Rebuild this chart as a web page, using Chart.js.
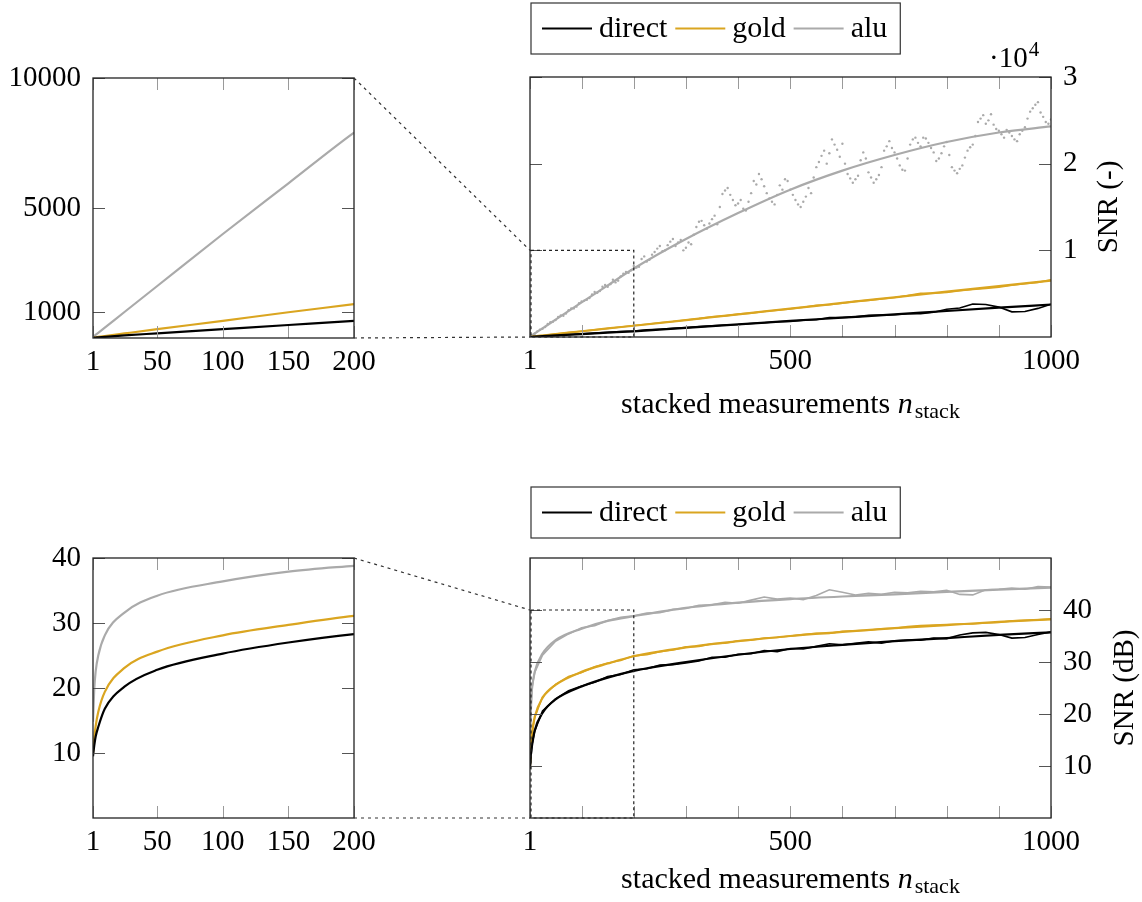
<!DOCTYPE html>
<html>
<head>
<meta charset="utf-8">
<script src="https://cdn.jsdelivr.net/npm/chart.js@4"></script>
<style>
  body { margin: 0; background: #fff; width: 1142px; height: 902px; position: relative; overflow: hidden; }
  canvas { position: absolute; }
</style>
</head>
<body>
<canvas id="topLeft" width="400" height="320" style="left:0;top:60px"></canvas>
<canvas id="topRight" width="642" height="430" style="left:500px;top:0"></canvas>
<canvas id="botLeft" width="400" height="320" style="left:0;top:540px"></canvas>
<canvas id="botRight" width="642" height="422" style="left:500px;top:480px"></canvas>
<canvas id="links" width="1142" height="902" style="left:0;top:0"></canvas>
<script>
// ---- data ----
const nFit = [1, 2, 3, 5, 10, 25, 50, 100, 150, 200, 300, 400, 500, 600, 700, 800, 900, 1000];
const fitDirect = [9, 13, 18, 25, 45, 100, 180, 340, 500, 660, 1060, 1450, 1850, 2230, 2610, 3000, 3380, 3750];
const fitGold = [10, 18, 25, 40, 75, 175, 340, 660, 990, 1300, 1950, 2620, 3270, 3930, 4580, 5230, 5870, 6500];
const fitAlu = [30, 80, 120, 200, 400, 1000, 2000, 4000, 5950, 7900, 11300, 14300, 17000, 19200, 21000, 22500, 23600, 24300];

const fitDirectDb = [9.5, 11.2, 12.5, 14.0, 16.8, 20.2, 22.8, 25.3, 27.0, 28.3, 30.0, 31.4, 32.5, 33.3, 34.0, 34.6, 35.2, 35.7];
const fitGoldDb = [10.0, 12.5, 14.1, 16.3, 19.4, 23.1, 25.6, 28.1, 29.7, 31.1, 32.8, 34.0, 35.0, 35.8, 36.5, 37.1, 37.7, 38.2];
const fitAluDb = [14.8, 20.0, 22.5, 25.0, 28.1, 31.6, 34.2, 36.4, 37.9, 38.8, 40.4, 41.4, 42.1, 42.6, 43.0, 43.5, 43.9, 44.3];

const nMeas = [1, 5, 10, 25, 50, 75, 100, 125, 150, 175, 200, 225, 250, 275, 300, 325, 350, 375, 400, 425,
  450, 475, 500, 525, 550, 575, 600, 625, 650, 675, 700, 725, 750, 775, 800, 825, 850, 875, 900, 925, 950, 975, 1000];
const measDirect = [9, 25, 45, 100, 190, 280, 360, 450, 540, 640, 700, 820, 900, 990, 1080, 1200, 1280, 1380, 1440, 1560,
  1650, 1760, 1800, 1940, 1990, 2250, 2250, 2320, 2500, 2520, 2560, 2680, 2700, 2850, 3200, 3350, 3800, 3750, 3450, 2900, 2950, 3300, 3780];
const measGold = [10, 40, 75, 170, 330, 500, 660, 820, 990, 1150, 1320, 1480, 1650, 1780, 1970, 2120, 2330, 2440, 2640, 2760,
  2950, 3090, 3250, 3430, 3650, 3720, 3900, 4110, 4230, 4380, 4560, 4780, 5050, 5050, 5150, 5330, 5500, 5600, 5750, 5980, 6150, 6300, 6600];

const measDirectDb = [9.5, 14.2, 16.7, 20.6, 22.9, 24.5, 25.4, 26.1, 27.2, 27.6, 28.5, 28.7, 29.4, 29.5, 29.8, 30.2, 30.9, 30.9, 31.5, 31.6,
  32.2, 32.0, 32.6, 32.5, 33.0, 33.5, 33.3, 33.6, 33.9, 33.6, 34.1, 34.2, 34.2, 34.6, 34.5, 35.2, 35.6, 35.7, 35.3, 34.6, 34.7, 35.3, 35.8];
const measGoldDb = [10.0, 16.5, 19.3, 23.3, 25.7, 27.2, 28.0, 29.1, 29.8, 30.3, 31.2, 31.4, 32.0, 32.3, 32.9, 33.0, 33.5, 33.6, 34.1, 34.2,
  34.6, 34.7, 35.0, 35.3, 35.5, 35.5, 35.9, 36.0, 36.1, 36.4, 36.5, 36.8, 37.0, 37.1, 37.2, 37.3, 37.3, 37.5, 37.6, 37.9, 38.0, 38.1, 38.3];
const measAluDb = [14.8, 25.2, 28.0, 31.3, 34.0, 35.4, 36.6, 37.0, 38.0, 38.6, 38.9, 39.4, 39.5, 40.1, 40.3, 40.9, 41.0, 41.5, 41.3, 41.9,
  42.5, 42.1, 42.3, 42.0, 42.8, 43.9, 43.4, 42.9, 43.2, 43.0, 43.4, 43.3, 43.6, 43.5, 43.8, 43.0, 42.9, 43.9, 44.0, 44.2, 44.0, 44.5, 44.4];

const nDots = [1, 10, 20, 30, 40, 50, 60, 70, 80, 90, 100, 110, 120, 130, 140, 150, 160, 170, 180, 190,
  200, 210, 220, 230, 240, 250, 260, 270, 280, 290, 300, 310, 320, 330, 340, 350, 360, 370, 380, 390,
  400, 410, 420, 430, 440, 450, 460, 470, 480, 490, 500, 510, 520, 530, 540, 550, 560, 570, 580, 590,
  600, 610, 620, 630, 640, 650, 660, 670, 680, 690, 700, 710, 720, 730, 740, 750, 760, 770, 780, 790,
  800, 810, 820, 830, 840, 850, 860, 870, 880, 890, 900, 910, 920, 930, 940, 950, 960, 970, 980, 990, 1000];
const measAlu = [40, 380, 830, 1150, 1700, 1950, 2500, 2700, 3300, 3500, 4100, 4300, 4900, 5100, 5800, 5800, 6600, 6500, 7300, 7400,
  8200, 8100, 9300, 8900, 9800, 10500, 10000, 11000, 10500, 11200, 10300, 10700, 12700, 13400, 12500, 13600, 13000, 16500, 17200, 15800,
  15400, 14800, 15600, 18000, 18800, 17400, 16000, 15300, 17500, 18200, 17000, 15800, 15000, 16200, 16600, 19600, 20900, 20000, 22800, 21600,
  22300, 18800, 17800, 18600, 21300, 19000, 17800, 18700, 21500, 22600, 21300, 19800, 19200, 22200, 23000, 22000, 22900, 21800, 20300, 21200,
  22500, 19600, 18900, 19800, 21500, 22200, 24800, 25600, 25000, 24500, 23800, 23000, 23600, 22800, 23400, 24200, 26000, 26800, 25900, 24800, 25100];
const nDotsB = [5, 15, 25, 35, 45, 55, 65, 75, 85, 95, 105, 115, 125, 135, 145, 155, 165, 175, 185, 195,
  205, 215, 225, 235, 245, 255, 265, 275, 285, 295, 305, 315, 325, 335, 345, 355, 365, 375, 385, 395,
  405, 415, 425, 435, 445, 455, 465, 475, 485, 495, 505, 515, 525, 535, 545, 555, 565, 575, 585, 595,
  605, 615, 625, 635, 645, 655, 665, 675, 685, 695, 705, 715, 725, 735, 745, 755, 765, 775, 785, 795,
  805, 815, 825, 835, 845, 855, 865, 875, 885, 895, 905, 915, 925, 935, 945, 955, 965, 975, 985, 995];
const measAluB = [180, 650, 950, 1500, 1750, 2300, 2450, 3100, 3300, 3900, 4200, 4500, 5200, 5300, 6000, 6100, 6300, 7000, 7500, 7700,
  8000, 9000, 8700, 9500, 10200, 9900, 10600, 11300, 10900, 10000, 10900, 11800, 13300, 12900, 13100, 14000, 15000, 16900, 16400, 15200,
  15800, 14600, 16600, 17600, 18200, 16600, 15600, 16400, 17000, 18000, 16400, 15300, 15600, 17200, 18400, 20200, 21500, 21200, 22200, 20800,
  20000, 18300, 18200, 20400, 20600, 18400, 18200, 19600, 22000, 21800, 20600, 19300, 20600, 22800, 22400, 23000, 22400, 21300, 20600, 22000,
  21000, 19200, 19400, 20700, 21900, 23200, 25200, 24600, 25700, 24000, 23400, 23900, 23200, 22600, 23800, 25200, 26400, 27100, 25400, 24600];

// ticks
const zoomTicks = [1, 50, 100, 150, 200];
const wideTicks = [1, 100, 200, 300, 400, 500, 600, 700, 800, 900, 1000];
const wideLabels = [1, 500, 1000];
const snrZoomTicks = [1000, 5000, 10000];
const snrWideTicks = [10000, 20000, 30000];
const snrWideLabels = ['1', '2', '3'];
const dbTicks = [10, 20, 30, 40];

const FONT = '"Liberation Serif", "Times New Roman", serif';
const C_DIRECT = '#000000', C_GOLD = '#daa520', C_ALU = '#aaaaaa';

Chart.defaults.font.family = FONT;
Chart.defaults.font.size = 29;
Chart.defaults.color = '#000';

function pts(xs, ys) { return xs.map((x, i) => ({ x: x, y: ys[i] })); }
function fitSet(label, ys, color) {
  return { label: label, data: pts(nFit, ys), borderColor: color, backgroundColor: color, borderWidth: 2.2,
    pointRadius: 0, cubicInterpolationMode: 'monotone', order: 0 };
}
function measSet(ys, color) {
  return { label: '', data: pts(nMeas, ys), borderColor: color, borderWidth: 1.6, pointRadius: 0, tension: 0, order: 1 };
}
function dotSet(xs, ys, color) {
  return { label: '', data: pts(xs, ys), showLine: false, pointRadius: 1.2, pointBorderWidth: 0,
    pointBackgroundColor: color, order: 1 };
}

function makeDecor(o) {
  return {
    id: 'decor',
    afterDatasetsDraw(chart) {
      const ctx = chart.ctx, a = chart.chartArea, sx = chart.scales.x, sy = chart.scales.y;
      ctx.save();
      // inward tick marks on all four sides
      ctx.lineWidth = 1;
      ctx.strokeStyle = '#9a9a9a';
      ctx.beginPath();
      sx.ticks.forEach(t => {
        const p = Math.round(sx.getPixelForValue(t.value)) + 0.5;
        ctx.moveTo(p, a.bottom); ctx.lineTo(p, a.bottom - 12);
        ctx.moveTo(p, a.top); ctx.lineTo(p, a.top + 12);
      });
      ctx.stroke();
      ctx.strokeStyle = '#555';
      ctx.beginPath();
      sy.ticks.forEach(t => {
        const p = Math.round(sy.getPixelForValue(t.value)) + 0.5;
        ctx.moveTo(a.left, p); ctx.lineTo(a.left + 12, p);
        ctx.moveTo(a.right, p); ctx.lineTo(a.right - 12, p);
      });
      ctx.stroke();
      // dotted zoom window
      if (o.box) {
        const x0 = sx.getPixelForValue(o.box[0]), x1 = sx.getPixelForValue(o.box[1]);
        const y0 = sy.getPixelForValue(o.box[2]), y1 = sy.getPixelForValue(o.box[3]);
        ctx.setLineDash([3, 3]);
        ctx.strokeStyle = '#222';
        ctx.lineWidth = 1.2;
        ctx.strokeRect(x0 + 1, y1, x1 - x0 - 1, y0 - y1);
        ctx.setLineDash([]);
      }
      // frame
      ctx.strokeStyle = '#222';
      ctx.lineWidth = 1.3;
      ctx.strokeRect(a.left, a.top, a.right - a.left, a.bottom - a.top);
      ctx.fillStyle = '#000';
      // x title
      if (o.xTitle) {
        const main = 'stacked measurements ';
        ctx.font = '30px ' + FONT;
        const w1 = ctx.measureText(main).width;
        ctx.font = 'italic 30px ' + FONT;
        const w2 = ctx.measureText('n').width;
        ctx.font = '22px ' + FONT;
        const w3 = ctx.measureText('stack').width;
        let x = (a.left + a.right) / 2 - (w1 + w2 + 2 + w3) / 2;
        const yb = a.bottom + o.xTitle;
        ctx.textAlign = 'left';
        ctx.textBaseline = 'alphabetic';
        ctx.font = '30px ' + FONT; ctx.fillText(main, x, yb); x += w1;
        ctx.font = 'italic 30px ' + FONT; ctx.fillText('n', x, yb); x += w2 + 2;
        ctx.font = '22px ' + FONT; ctx.fillText('stack', x, yb + 5);
      }
      // y title (reads bottom to top)
      if (o.yTitle) {
        ctx.save();
        ctx.translate(a.right + o.yTitleDx, (a.top + a.bottom) / 2);
        ctx.rotate(-Math.PI / 2);
        ctx.font = '29px ' + FONT;
        ctx.textAlign = 'center';
        ctx.textBaseline = 'alphabetic';
        ctx.fillText(o.yTitle, 0, 0);
        ctx.restore();
      }
      // exponent marker
      if (o.exponent) {
        ctx.textAlign = 'left';
        ctx.textBaseline = 'alphabetic';
        ctx.font = '29px ' + FONT;
        const x = a.right - 62, yb = a.top - 10;
        ctx.fillText('\u00b710', x, yb);
        const w = ctx.measureText('\u00b710').width;
        ctx.font = '21px ' + FONT;
        ctx.fillText('4', x + w + 1, yb - 11);
      }
      // legend in a frame
      if (o.legend) {
        const items = chart.data.datasets.filter(d => d.label);
        const top = a.top - o.legend, left = a.left + 1;
        let x = left + 11;
        ctx.font = '30px ' + FONT;
        ctx.textAlign = 'left';
        ctx.textBaseline = 'alphabetic';
        items.forEach(d => {
          ctx.strokeStyle = d.borderColor;
          ctx.lineWidth = 2.2;
          ctx.beginPath(); ctx.moveTo(x, top + 25.5); ctx.lineTo(x + 50, top + 25.5); ctx.stroke();
          x += 57;
          ctx.fillText(d.label, x, top + 34);
          x += ctx.measureText(d.label).width + 8;
        });
        ctx.strokeStyle = '#333';
        ctx.lineWidth = 1.2;
        ctx.strokeRect(left, top, x - 8 + 13 - left, 51);
      }
      ctx.restore();
    }
  };
}

function xScale(max, ticks, labels, height) {
  return {
    type: 'linear', min: 1, max: max,
    afterBuildTicks: s => { s.ticks = ticks.map(v => ({ value: v })); },
    afterFit: s => { s.height = height; s.paddingLeft = 0; s.paddingRight = 0; },
    ticks: { autoSkip: false, maxRotation: 0, padding: 7,
      callback: v => labels.includes(v) ? String(v) : '' },
    grid: { display: false, drawTicks: false },
    border: { display: false }
  };
}
function yScale(pos, max, ticks, labels, width) {
  return {
    type: 'linear', position: pos, min: 0, max: max,
    afterBuildTicks: s => { s.ticks = ticks.map(v => ({ value: v })); },
    afterFit: s => { s.width = width; s.paddingTop = 0; s.paddingBottom = 0; },
    ticks: { autoSkip: false, padding: 12,
      callback: (v, i) => labels ? labels[i] : String(v) },
    grid: { display: false, drawTicks: false },
    border: { display: false }
  };
}
function baseOptions(padding, scales) {
  return {
    responsive: false, animation: false, events: [],
    layout: { padding: padding },
    plugins: { legend: { display: false }, tooltip: { enabled: false } },
    scales: scales
  };
}

const topLeft = new Chart(document.getElementById('topLeft'), {
  type: 'line',
  data: { datasets: [fitSet('direct', fitDirect, C_DIRECT), fitSet('gold', fitGold, C_GOLD), fitSet('alu', fitAlu, C_ALU)] },
  options: baseOptions({ left: 0, top: 18, right: 46, bottom: 0 }, {
    x: xScale(200, zoomTicks, zoomTicks, 42),
    y: yScale('left', 10000, snrZoomTicks, null, 93)
  }),
  plugins: [makeDecor({})]
});

const topRight = new Chart(document.getElementById('topRight'), {
  type: 'line',
  data: { datasets: [
    measSet(measDirect, C_DIRECT),
    measSet(measGold, C_GOLD),
    dotSet(nDots, measAlu, C_ALU),
    dotSet(nDotsB, measAluB, C_ALU),
    fitSet('direct', fitDirect, C_DIRECT), fitSet('gold', fitGold, C_GOLD), fitSet('alu', fitAlu, C_ALU)
  ] },
  options: baseOptions({ left: 30, top: 77, right: 0, bottom: 0 }, {
    x: xScale(1000, wideTicks, wideLabels, 93),
    y: yScale('right', 30000, snrWideTicks, snrWideLabels, 91)
  }),
  plugins: [makeDecor({ box: [1, 200, 0, 10000], xTitle: 76, yTitle: 'SNR (-)', yTitleDx: 66, exponent: true, legend: 74 })]
});

const botLeft = new Chart(document.getElementById('botLeft'), {
  type: 'line',
  data: { datasets: [fitSet('direct', fitDirectDb, C_DIRECT), fitSet('gold', fitGoldDb, C_GOLD), fitSet('alu', fitAluDb, C_ALU)] },
  options: baseOptions({ left: 0, top: 18, right: 46, bottom: 0 }, {
    x: xScale(200, zoomTicks, zoomTicks, 42),
    y: yScale('left', 40, dbTicks, null, 93)
  }),
  plugins: [makeDecor({})]
});

const botRight = new Chart(document.getElementById('botRight'), {
  type: 'line',
  data: { datasets: [
    measSet(measDirectDb, C_DIRECT),
    measSet(measGoldDb, C_GOLD),
    measSet(measAluDb, C_ALU),
    fitSet('direct', fitDirectDb, C_DIRECT), fitSet('gold', fitGoldDb, C_GOLD), fitSet('alu', fitAluDb, C_ALU)
  ] },
  options: baseOptions({ left: 30, top: 78, right: 0, bottom: 0 }, {
    x: xScale(1000, wideTicks, wideLabels, 84),
    y: yScale('right', 50, dbTicks, null, 91)
  }),
  plugins: [makeDecor({ box: [1, 200, 0, 40], xTitle: 70, yTitle: 'SNR (dB)', yTitleDx: 82, legend: 71 })]
});

// dotted connectors between the zoom panels and the zoom windows
function linkPanels(ctx, left, leftOff, right, rightOff, yTop, yBottom) {
  const la = left.chartArea;
  const rx = right.scales.x.getPixelForValue(1) + rightOff[0];
  const ryTop = right.scales.y.getPixelForValue(yTop) + rightOff[1];
  const ryBot = right.scales.y.getPixelForValue(yBottom) + rightOff[1];
  ctx.beginPath();
  ctx.moveTo(la.right + leftOff[0], la.top + leftOff[1]); ctx.lineTo(rx, ryTop);
  ctx.moveTo(la.right + leftOff[0], la.bottom + leftOff[1]); ctx.lineTo(rx, ryBot);
  ctx.stroke();
}
const lctx = document.getElementById('links').getContext('2d');
lctx.setLineDash([3, 4]);
lctx.strokeStyle = '#333';
lctx.lineWidth = 1.2;
linkPanels(lctx, topLeft, [0, 60], topRight, [500, 0], 10000, 0);
linkPanels(lctx, botLeft, [0, 540], botRight, [500, 480], 40, 0);
</script>
</body>
</html>
